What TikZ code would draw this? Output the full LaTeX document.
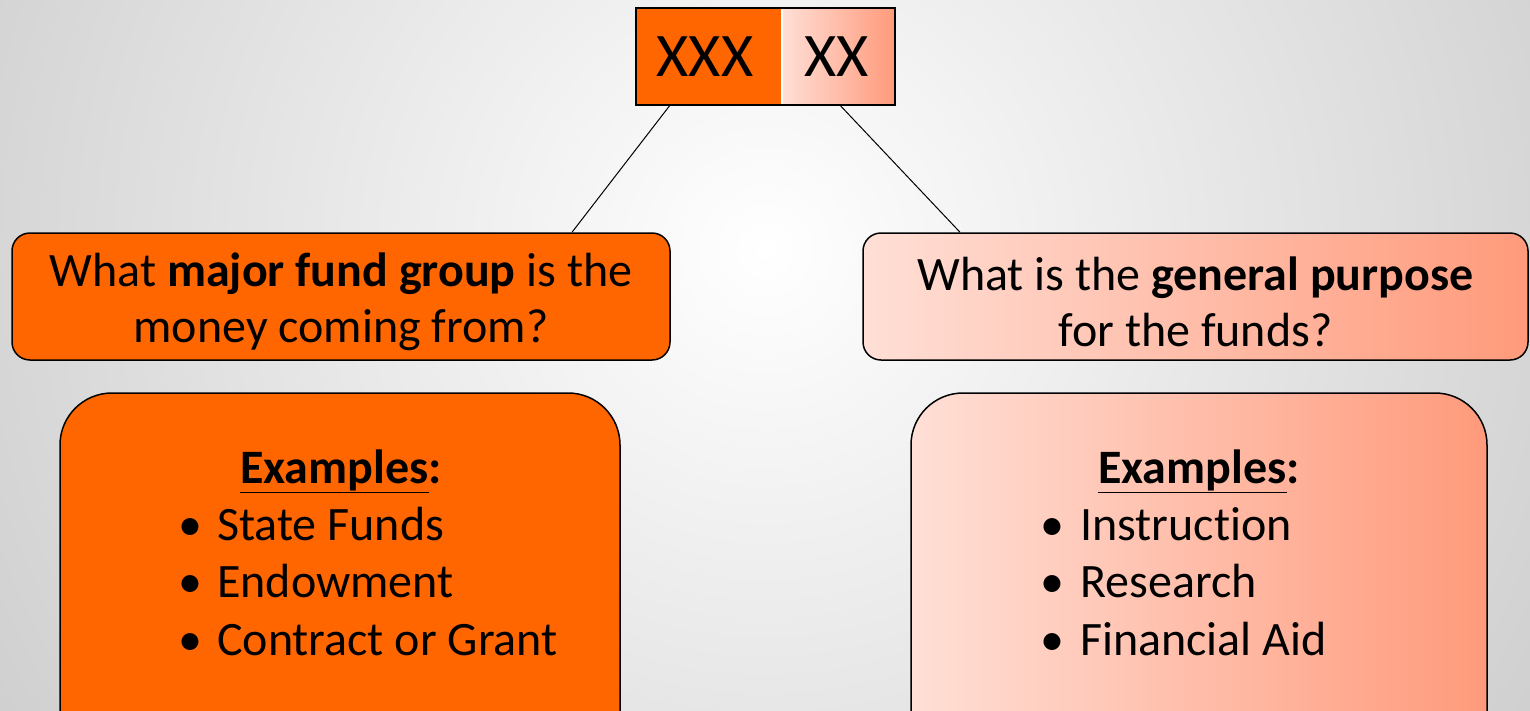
\documentclass[tikz,border=0pt]{standalone}
\usepackage{fontspec}
\setmainfont{Carlito}[Ligatures=NoCommon]
\usetikzlibrary{calc}
\definecolor{orng}{HTML}{FF6600}
\definecolor{pinkL}{HTML}{FFDFD6}
\definecolor{pinkR}{HTML}{FF9A7B}
\definecolor{bgout}{HTML}{CACACA}
\tikzset{
  box/.style={draw=black, line width=1.5pt, inner sep=0pt, align=center},
  qbox/.style={box, rounded corners=18pt, minimum height=127pt, font=\fontsize{48}{56}\selectfont},
  exbox/.style={box, rounded corners=52pt, minimum height=380pt, minimum width=560pt},
  orngfill/.style={fill=orng},
  pinkfill/.style={left color=pinkL, right color=pinkR},
  topcell/.style={inner sep=0pt, minimum height=97pt, font=\fontsize{62}{62}\selectfont},
  exhead/.style={inner sep=0pt, anchor=base, font=\fontsize{48}{48}\selectfont\bfseries},
  exitem/.style={inner sep=0pt, anchor=base west, font=\fontsize{48}{48}\selectfont},
  link/.style={draw=black, line width=1pt}
}
\newcommand{\bul}[2]{\makebox[#1][l]{•}#2}
\newcommand{\topstrut}{\rule{0pt}{45pt}}
\begin{document}
\begin{tikzpicture}[x=1pt,y=-1pt]
\useasboundingbox (0,0) rectangle (1530,710);
\clip (0,0) rectangle (1530,710);
\shade[inner color=white, outer color=bgout] (765,250) circle (1000pt);

% top code box
\node[topcell, orngfill, minimum width=146pt] (topL) at (709,56.5) {\hspace*{-8pt}XXX};
\node[topcell, pinkfill, minimum width=113pt] (topR) at (838.5,56.5) {\hspace*{-4pt}XX};
\draw[white, line width=1.5pt] (topL.north east) -- (topL.south east);
\draw[black, line width=2pt] (topL.north west) rectangle (topR.south east);

% question boxes
\node[qbox, orngfill, minimum width=658pt] (qL) at (341,296.5) {\topstrut What \textbf{major fund group} is the\\money coming from?};
\node[qbox, pinkfill, minimum width=665pt] (qR) at (1195.5,296.5) {\topstrut What is the \textbf{general purpose}\\for the funds?};

% connectors
\draw[link] ([xshift=-39pt]topL.south) -- ([xshift=231pt]qL.north);
\draw[link] ([xshift=1.5pt]topR.south) -- ([xshift=-235.5pt]qR.north);

% example boxes
\node[exbox, orngfill] (exL) at (340,583) {};
\node[exbox, pinkfill, minimum width=576pt] (exR) at (1199,583) {};

\node[exhead] (hL) at (341,483) {\underline{Examples}:};
\node[exitem] (l1) at (178,540) {\bul{39pt}{State Funds}};
\node[exitem] (l2) at (178,597.5) {\bul{39pt}{Endowment}};
\node[exitem] (l3) at (178,655) {\bul{39pt}{Contract or Grant}};

\node[exhead] (hR) at (1199,483) {\underline{Examples}:};
\node[exitem] (r1) at (1040,540) {\bul{40pt}{Instruction}};
\node[exitem] (r2) at (1040,597.5) {\bul{40pt}{Research}};
\node[exitem] (r3) at (1040,655) {\bul{40pt}{Financial Aid}};
\end{tikzpicture}
\end{document}
